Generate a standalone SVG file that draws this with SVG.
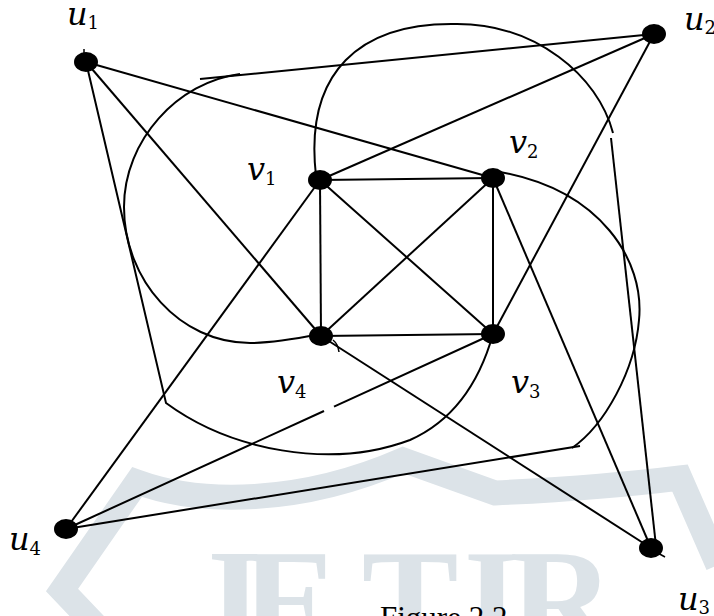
<svg xmlns="http://www.w3.org/2000/svg" width="714" height="616" viewBox="0 0 714 616">
<style>
.wm{fill:none;stroke:#dce3e8;stroke-width:25;stroke-linejoin:miter}
.wmt{fill:#dce3e8;font-family:"Liberation Serif",serif;font-weight:bold;font-size:145px;text-anchor:middle}
.e{fill:none;stroke:#000;stroke-width:2}
.t{fill:none;stroke:#000;stroke-width:1.5}
.n{fill:#000}
.lb{font-family:"DejaVu Serif",serif;font-style:italic;font-size:32px;fill:#000}
.sb{font-style:normal;font-size:18px}
.cap{font-family:"Liberation Serif",serif;font-size:31px;fill:#000}
</style>
<rect width="714" height="616" fill="#fff"/>
<g id="watermark">
<path class="wm" d="M100 630 L62 590 L137 482 C200 505 300 505 403 460 L495 493 Q600 488 680 478 L718 565"/>
<text class="wmt" y="649"><tspan x="225">J</tspan><tspan x="290">E</tspan><tspan x="410">T</tspan><tspan x="492">I</tspan><tspan x="562">R</tspan></text>
</g>
<g id="connectors">
<path class="e" d="M320 180 L493 178"/>
<path class="e" d="M493 178 L493 334"/>
<path class="e" d="M493 334 L321 336"/>
<path class="e" d="M321 336 L320 180"/>
<path class="e" d="M320 180 L493 334"/>
<path class="e" d="M493 178 L321 336"/>
<path class="e" d="M86 62 L493 178"/>
<path class="e" d="M86 62 L321 336"/>
<path class="e" d="M86 62 L166 403 C230 450 330 470 410 440 C455 420 480 380 493 334"/>
<path class="e" d="M654 34 L320 180"/>
<path class="e" d="M654 34 L493 334"/>
<path class="e" d="M654 34 L200 79"/>
<path class="e" d="M240 74 C178 82 124 140 124 207 C124 280 180 343 250 343 C275 343 300 338 321 334"/>
<path class="e" d="M493 178 L651 548"/>
<path class="e" d="M321 336 L651 548"/>
<path class="e" d="M316 176 C304 72 360 22 457 24 C535 24 598 75 613 133"/>
<path class="e" d="M611 138 L656 546"/>
<path class="e" d="M66 529 L320 180"/>
<path class="e" d="M66 529 L324 411"/>
<path class="e" d="M334 406.6 L493 334"/>
<path class="e" d="M500 172 C600 190 645 260 639 320 C635 370 605 425 572 448"/>
<path class="e" d="M580 446 L66 529"/>
<path class="t" d="M84 49 L84 57"/>
<path class="t" d="M333 340 Q338 344 339 352"/>
<path class="t" d="M656 552 L665 557"/>
</g>
<g id="node-u1"><ellipse class="n" cx="86" cy="62" rx="12" ry="10"/><text class="lb" x="67" y="25">u<tspan class="sb" dy="4">1</tspan></text></g>
<g id="node-u2"><ellipse class="n" cx="654" cy="34" rx="12" ry="10"/><text class="lb" x="684" y="30">u<tspan class="sb" dy="4">2</tspan></text></g>
<g id="node-u3"><ellipse class="n" cx="651" cy="548" rx="12" ry="10"/><text class="lb" x="678" y="610">u<tspan class="sb" dy="4">3</tspan></text></g>
<g id="node-u4"><ellipse class="n" cx="66" cy="529" rx="12" ry="10"/><text class="lb" x="9" y="550">u<tspan class="sb" dy="5">4</tspan></text></g>
<g id="node-v1"><ellipse class="n" cx="320" cy="180" rx="12" ry="10"/><text class="lb" x="247" y="180">v<tspan class="sb" dy="5">1</tspan></text></g>
<g id="node-v2"><ellipse class="n" cx="493" cy="178" rx="12" ry="10"/><text class="lb" x="509" y="153">v<tspan class="sb" dy="5">2</tspan></text></g>
<g id="node-v3"><ellipse class="n" cx="493" cy="334" rx="12" ry="10"/><text class="lb" x="511" y="393">v<tspan class="sb" dy="5">3</tspan></text></g>
<g id="node-v4"><ellipse class="n" cx="321" cy="336" rx="12" ry="10"/><text class="lb" x="277" y="393">v<tspan class="sb" dy="5">4</tspan></text></g>
<g id="caption"><text class="cap" x="380" y="628">Figure 2.2</text></g>
</svg>
